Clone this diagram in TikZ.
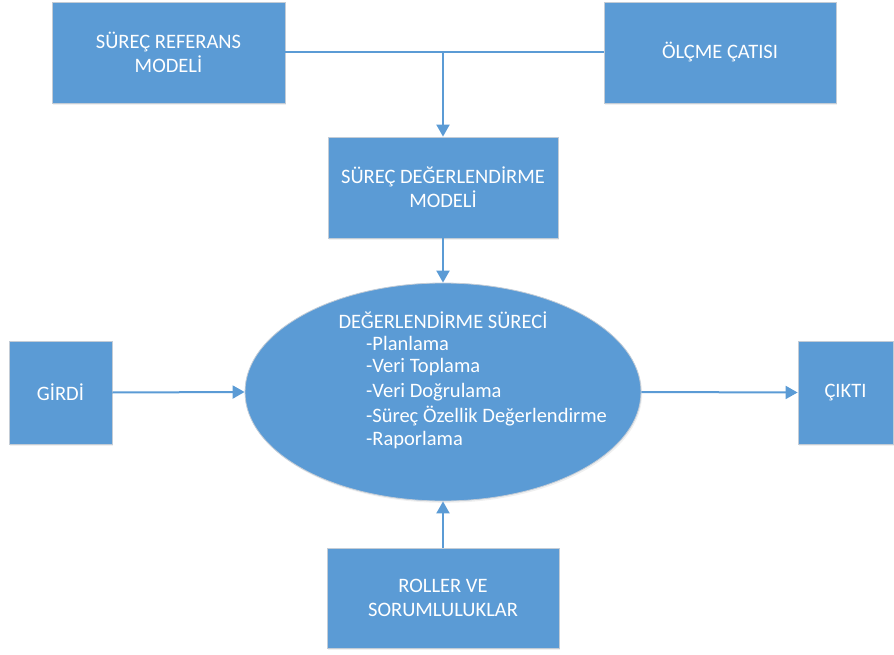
\documentclass[tikz,border=0pt]{standalone}
\usepackage{fontspec}
\setmainfont{Carlito}
\usetikzlibrary{arrows.meta,shapes.geometric,shadows}
\definecolor{boxblue}{HTML}{5B9BD5}
\definecolor{boxedge}{HTML}{C3CCD6}
\begin{document}
\begin{tikzpicture}[x=1pt,y=-1pt,
  txt/.style={text=white, font=\fontsize{20.5}{24}\selectfont},
  box/.style={txt, draw=boxedge, line width=0.8pt, fill=boxblue, align=center,
    inner sep=0pt, drop shadow={opacity=0.12, shadow xshift=1.2pt, shadow yshift=-1.8pt}},
  oval/.style={box, ellipse},
  item/.style={txt, anchor=west, inner sep=0pt},
  wire/.style={draw=boxblue, line width=2pt},
  link/.style={wire, -{Triangle[width=13pt,length=12pt]}}]
  \useasboundingbox (0,0) rectangle (894,655);

  % top row: the two source boxes
  \node[box, minimum width=233pt, minimum height=101pt] (srm) at (168.5,52.5)
    {SÜREÇ REFERANS\\MODELİ};
  \node[box, minimum width=232pt, minimum height=101pt] (olc) at (720,52.5)
    {ÖLÇME ÇATISI};

  % assessment model
  \node[box, minimum width=230pt, minimum height=101pt] (sdm) at (443,187.5)
    {SÜREÇ DEĞERLENDİRME\\MODELİ};

  % central assessment process
  \node[oval, minimum width=396pt, minimum height=218pt] (proc) at (443,392) {};
  \node[txt, inner sep=0pt] (ptitle) at (443,320) {DEĞERLENDİRME SÜRECİ};
  \node[item] (p1) at (366,343) {-Planlama};
  \node[item] (p2) at (366,367) {-Veri Toplama};
  \node[item] (p3) at (366,392) {-Veri Doğrulama};
  \node[item] (p4) at (366,416) {-Süreç Özellik Değerlendirme};
  \node[item] (p5) at (366,440) {-Raporlama};

  % input, output, roles
  \node[box, minimum width=103pt, minimum height=103pt] (girdi) at (60.5,392.5) {GİRDİ};
  \node[box, minimum width=95pt, minimum height=103pt] (cikti) at (845.5,392.5) {ÇIKTI};
  \node[box, minimum width=232pt, minimum height=100pt] (roller) at (443,598)
    {ROLLER VE\\SORUMLULUKLAR};

  % connectors
  \draw[wire] (srm.east) -- (olc.west);
  \draw[link] (srm.east -| sdm.north) -- (sdm.north);
  \draw[link] (sdm.south) -- (proc.north);
  \draw[link] (girdi.east) -- (proc.west);
  \draw[link] (proc.east) -- (cikti.west);
  \draw[link] (roller.north) -- (proc.south);
\end{tikzpicture}
\end{document}
